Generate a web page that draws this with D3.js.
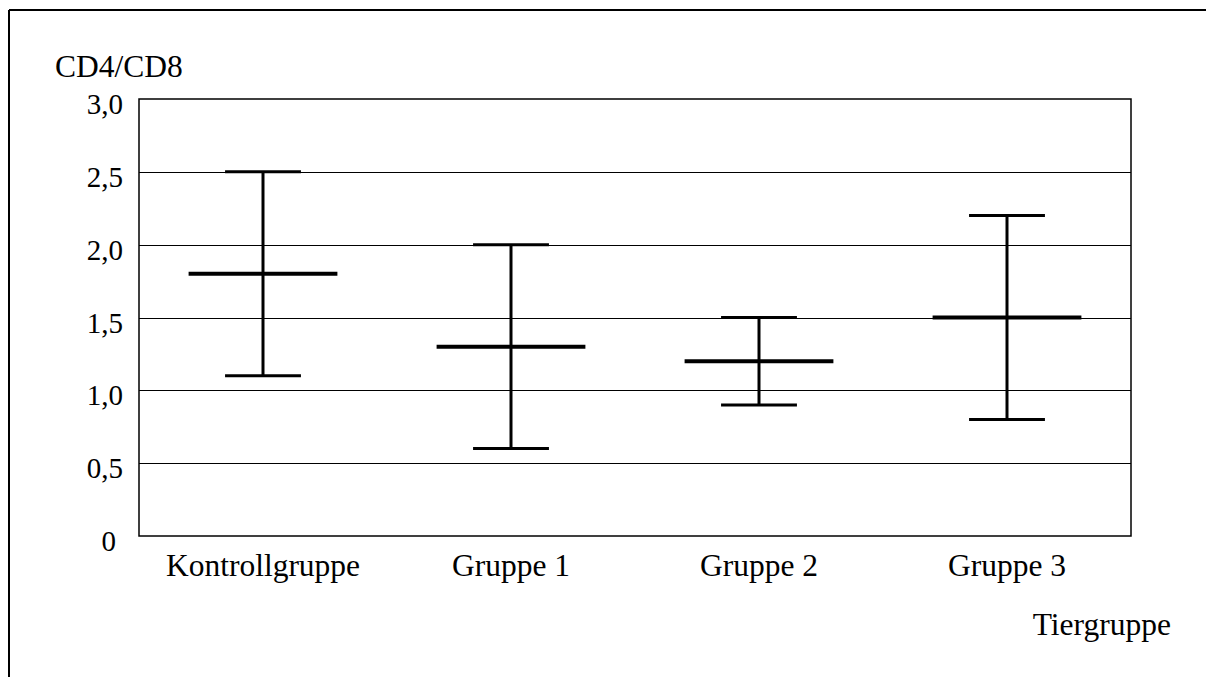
<!DOCTYPE html>
<html>
<head>
<meta charset="utf-8">
<script src="https://cdn.jsdelivr.net/npm/d3@7/dist/d3.min.js"></script>
<style>
  html, body { margin: 0; padding: 0; background: #fff; }
  svg { display: block; }
  text { font-family: "Liberation Serif", "Times New Roman", serif; fill: #000; }
</style>
</head>
<body>
<svg id="chart" width="1206" height="677"></svg>
<script>
const categories = ["Kontrollgruppe", "Gruppe 1", "Gruppe 2", "Gruppe 3"];
const means = [1.8, 1.3, 1.2, 1.5];
const upper = [2.5, 2.0, 1.5, 2.2];
const lower = [1.1, 0.6, 0.9, 0.8];
const yTicks = [0, 0.5, 1.0, 1.5, 2.0, 2.5, 3.0];
const yTickLabels = ["0", "0,5", "1,0", "1,5", "2,0", "2,5", "3,0"];
const yTitle = "CD4/CD8";
const xTitle = "Tiergruppe";

const svg = d3.select("#chart");
const W = 1206, H = 677;
const plot = { left: 139, right: 1131, top: 99, bottom: 536 };

// outer frame (top + left edges visible)
svg.append("line").attr("x1", 9).attr("x2", W).attr("y1", 10).attr("y2", 10)
  .attr("stroke", "#000").attr("stroke-width", 2);
svg.append("line").attr("x1", 9).attr("x2", 9).attr("y1", 10).attr("y2", H)
  .attr("stroke", "#000").attr("stroke-width", 2);

const x = d3.scaleBand().domain(categories).range([plot.left, plot.right]).padding(0);
const y = d3.scaleLinear().domain([0, 3]).range([plot.bottom, plot.top]);

// gridlines
svg.append("g").selectAll("line")
  .data(yTicks.filter(t => t > 0 && t < 3))
  .join("line")
  .attr("x1", plot.left).attr("x2", plot.right)
  .attr("y1", d => Math.round(y(d)) + 0.5).attr("y2", d => Math.round(y(d)) + 0.5)
  .attr("stroke", "#000").attr("stroke-width", 1);

// plot frame
svg.append("rect")
  .attr("x", plot.left).attr("y", plot.top)
  .attr("width", plot.right - plot.left).attr("height", plot.bottom - plot.top)
  .attr("fill", "none").attr("stroke", "#000").attr("stroke-width", 1.5);

// y tick labels
svg.append("g").selectAll("text")
  .data(yTicks)
  .join("text")
  .attr("x", d => d === 0 ? 116 : 123)
  .attr("y", d => y(d) + 15)
  .attr("text-anchor", "end")
  .attr("font-size", 29)
  .text((d, i) => yTickLabels[i]);

// x category labels
svg.append("g").selectAll("text")
  .data(categories)
  .join("text")
  .attr("x", d => x(d) + x.bandwidth() / 2)
  .attr("y", 576)
  .attr("text-anchor", "middle")
  .attr("font-size", 31.5)
  .text(d => d);

// titles
svg.append("text").attr("x", 55).attr("y", 77).attr("font-size", 31.5).text(yTitle);
svg.append("text").attr("x", 1171).attr("y", 635).attr("text-anchor", "end").attr("font-size", 31.5).text(xTitle);

// error bars
const bw = x.bandwidth();
const capHalf = bw * 0.153;
const meanHalf = bw * 0.3;
const g = svg.append("g");
categories.forEach((c, i) => {
  const cx = x(c) + bw / 2;
  g.append("line").attr("x1", cx).attr("x2", cx)
    .attr("y1", y(upper[i])).attr("y2", y(lower[i]))
    .attr("stroke", "#000").attr("stroke-width", 3);
  g.append("line").attr("x1", cx - capHalf).attr("x2", cx + capHalf)
    .attr("y1", y(upper[i])).attr("y2", y(upper[i]))
    .attr("stroke", "#000").attr("stroke-width", 3);
  g.append("line").attr("x1", cx - capHalf).attr("x2", cx + capHalf)
    .attr("y1", y(lower[i])).attr("y2", y(lower[i]))
    .attr("stroke", "#000").attr("stroke-width", 3);
  g.append("line").attr("x1", cx - meanHalf).attr("x2", cx + meanHalf)
    .attr("y1", y(means[i])).attr("y2", y(means[i]))
    .attr("stroke", "#000").attr("stroke-width", 4);
});
</script>
</body>
</html>
